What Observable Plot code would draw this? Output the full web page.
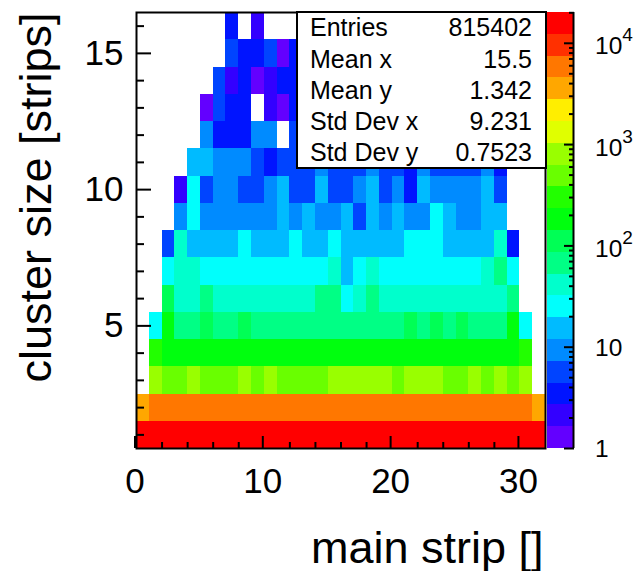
<!DOCTYPE html>
<html><head><meta charset="utf-8">
<script src="https://cdn.jsdelivr.net/npm/d3@7"></script>
<script src="https://cdn.jsdelivr.net/npm/@observablehq/plot@0.6"></script>
<style>
html,body{margin:0;padding:0;background:#fff;}
#chart{position:relative;width:638px;height:571px;background:#fff;}
#chart svg{position:absolute;left:0;top:0;}
</style></head><body><div id="chart"></div>
<script>
const _ = null;
// main strip index (x bin low edges) and cluster size (y bin centres)
const strips = [0,1,2,3,4,5,6,7,8,9,10,11,12,13,14,15,16,17,18,19,20,21,22,23,24,25,26,27,28,29,30,31];
const sizes = [1,2,3,4,5,6,7,8,9,10,11,12,13,14,15,16];

// bin contents per cluster size (one entry per strip)
const size1 = [15400,18100,18600,18900,18700,19000,18800,19100,18900,18800,19000,18700,18900,18800,18600,18900,18700,18800,18600,18900,18700,18800,18600,18800,18700,18900,18600,18800,18700,18500,18200,15600];
const size2 = [3900,6200,6400,6300,6500,6400,6300,6400,6500,6300,6400,6200,6300,6400,6300,6200,6400,6300,6300,6400,6200,6300,6400,6300,6200,6300,6400,6300,6200,6300,6100,4000];
const size3 = [_,700,600,595,655,605,590,610,650,600,660,605,595,600,610,645,660,655,650,665,600,650,655,645,600,610,660,605,650,595,690,_];
const size4 = [_,260,205,210,200,215,208,212,204,210,206,214,202,209,211,207,213,205,210,203,212,208,206,211,204,209,207,201,198,195,255,_];
const size5 = [_,28,160,80,78,95,82,80,92,79,81,77,80,78,83,76,80,82,79,81,77,94,84,90,83,93,81,79,76,150,27,_];
const size6 = [_,_,105,45,46,55,44,42,47,43,45,41,46,44,54,56,30,44,55,45,43,47,44,46,42,45,48,44,43,60,_,_];
const size7 = [_,_,24,34,35,27,25,28,26,29,24,27,26,28,25,33,18,26,34,27,29,25,28,26,27,29,26,33,53,22,_,_];
const size8 = [_,_,6,33,15,16,14,17,20,16,15,17,21,15,16,20,14,17,16,15,18,21,20,22,16,15,17,16,34,3,_,_];
const size9 = [_,_,_,9,20,10,9,10,11,9,10,13,10,12,9,10,13,7,12,10,12,9,11,20,13,10,9,13,12,_,_,_];
const size10 = [_,_,_,2,20,6,8,9,7,6,8,12,7,6,12,7,6,9,13,6,8,4,12,9,10,8,9,13,5,_,_,_];
const size11 = [_,_,_,_,13,12,9,8,10,6,4,5,6,6,8,5,6,7,9,5,6,3,8,6,7,6,6,9,3,_,_,_];
const size12 = [_,_,_,_,_,9,4,3,4,8,10,_,5,_,_,_,_,_,_,_,_,_,_,_,_,_,_,_,_,_,_,_];
const size13 = [_,_,_,_,_,1,6,3,4,_,2,1,3,_,_,_,_,_,_,_,_,_,_,_,_,_,_,_,_,_,_,_];
const size14 = [_,_,_,_,_,_,5,2,3,1,2,4,3,_,_,_,_,_,_,_,_,_,_,_,_,_,_,_,_,_,_,_];
const size15 = [_,_,_,_,_,_,_,6,4,3,5,1,3,_,_,_,_,_,_,_,_,_,_,_,_,_,_,_,_,_,_,_];
const size16 = [_,_,_,_,_,_,_,3,_,2,_,_,_,_,_,_,_,_,_,_,_,_,_,_,_,_,_,_,_,_,_,_];
const rows = [size1,size2,size3,size4,size5,size6,size7,size8,size9,size10,size11,size12,size13,size14,size15,size16];

// axes
const xMajor = [0,10,20,30];
const xMinor = [2,4,6,8,12,14,16,18,22,24,26,28];
const yMajor = [5,10,15];
const yMinor = [1,2,3,4,6,7,8,9,11,12,13,14,16];
const xTitle = "main strip []";
const yTitle = "cluster size [strips]";

// colour axis (log z)
const zMin = 1, zMax = 20137, nLevels = 20;
const zMajor = [1,10,100,1000,10000];
const zMajorBase = ["1","10","10","10","10"];
const zMajorExp = [null,null,"2","3","4"];
const zMinor = [2,3,4,5,6,7,8,9,20,30,40,50,60,70,80,90,200,300,400,500,600,700,800,900,2000,3000,4000,5000,6000,7000,8000,9000,20000];

// stats box
const statsLabels = ["Entries","Mean x","Mean y","Std Dev x","Std Dev y"];
const statsValues = ["815402","15.5","1.342","9.231","0.7523"];

// ROOT "pretty" palette, 20 contour colours
const palette = ["#6300FF","#3300FF","#0014FF","#0044FF","#008BFF","#00BBFF","#00FFFC","#00FFCC","#00FF85","#00FF55","#00FF0E","#22FF00","#69FF00","#99FF00","#E0FF00","#FFEE00","#FFA700","#FF7700","#FF3000","#FF0000"];

const font = '"Liberation Sans", Arial, Helvetica, sans-serif';
const edges = d3.range(nLevels + 1).map(k => zMin * Math.pow(zMax / zMin, k / nLevels));
const levels = edges.slice(1, nLevels);
const colorOpts = {type: "threshold", domain: levels, range: palette};

const cells = [];
sizes.forEach((s, i) => rows[i].forEach((v, j) => { if (v != null) cells.push({strip: strips[j], size: s, count: v}); }));

const main = Plot.plot({
  width: 638, height: 571,
  marginLeft: 136, marginRight: 93, marginTop: 12, marginBottom: 123,
  style: {fontFamily: font, background: "white", color: "black", overflow: "visible"},
  x: {domain: [0, 32]},
  y: {domain: [0.5, 16.5]},
  color: colorOpts,
  marks: [
    Plot.rect(cells, {x1: "strip", x2: d => d.strip + 1, y1: d => d.size - 0.5, y2: d => d.size + 0.5, fill: "count", shapeRendering: "crispEdges"}),
    Plot.axisX(xMinor, {anchor: "bottom", tickSize: -6, tickFormat: () => "", strokeWidth: 2, label: null}),
    Plot.axisX(xMajor, {anchor: "bottom", tickSize: -12, tickPadding: 32, fontSize: 35, dx: -1.5, strokeWidth: 2, label: null}),
    Plot.axisY(yMinor, {anchor: "left", tickSize: -8, tickFormat: () => "", strokeWidth: 2, label: null}),
    Plot.axisY(yMajor, {anchor: "left", tickSize: -15, tickPadding: 28, fontSize: 35, strokeWidth: 2, label: null}),
    Plot.frame({stroke: "black", strokeWidth: 2}),
    Plot.text([xTitle], {text: d => d, frameAnchor: "bottom-right", textAnchor: "end", lineAnchor: "bottom", dx: -2, dy: 114, fontSize: 45}),
    Plot.text([yTitle], {text: d => d, frameAnchor: "top-left", textAnchor: "end", lineAnchor: "bottom", rotate: -90, dx: -86, fontSize: 45})
  ]
});

// stats box drawn on top of the histogram
const sg = d3.select(main).append("g").attr("font-family", font).attr("font-size", 25)
  .attr("fill", "black").attr("text-anchor", "start");
sg.append("rect").attr("x", 297).attr("y", 12).attr("width", 249).attr("height", 156)
  .attr("fill", "white").attr("stroke", "black").attr("stroke-width", 2);
statsLabels.forEach((lab, i) => {
  const yb = 12 + 156 * (i + 0.5) / statsLabels.length + 8.8;
  sg.append("text").attr("x", 310).attr("y", yb).attr("text-anchor", "start").text(lab);
  sg.append("text").attr("x", 532).attr("y", yb).attr("text-anchor", "end").text(statsValues[i]);
});

const bands = d3.range(nLevels).map(i => ({lo: edges[i], hi: edges[i + 1], mid: Math.sqrt(edges[i] * edges[i + 1])}));
const cb = Plot.plot({
  width: 638, height: 571,
  marginLeft: 547, marginRight: 65, marginTop: 12, marginBottom: 123,
  style: {fontFamily: font, background: "transparent", color: "black", overflow: "visible"},
  x: {domain: [0, 1], axis: null},
  y: {type: "log", domain: [zMin, zMax]},
  color: colorOpts,
  marks: [
    Plot.rect(bands, {x1: 0, x2: 1, y1: "lo", y2: "hi", fill: "mid", shapeRendering: "crispEdges"}),
    Plot.axisY(zMinor, {anchor: "right", tickSize: -5, tickFormat: () => "", strokeWidth: 2, label: null}),
    Plot.axisY(zMajor, {anchor: "right", tickSize: -10, tickFormat: () => "", strokeWidth: 2, label: null}),
    Plot.ruleX([1], {strokeWidth: 2})
  ]
});
const ys = cb.scale("y"), xs = cb.scale("x");
const lx = xs.apply(1) + 22;
const lg = d3.select(cb).append("g").attr("font-family", font).attr("fill", "black").attr("text-anchor", "start");
zMajor.forEach((v, i) => {
  const y = ys.apply(v);
  const t = lg.append("text").attr("x", lx).attr("font-size", 24.5).attr("text-anchor", "start");
  if (zMajorExp[i] == null) {
    t.attr("y", y + 9).text(zMajorBase[i]);
  } else {
    t.attr("y", y + 11.5).text(zMajorBase[i]);
    t.append("tspan").attr("font-size", 19).attr("dy", -13).text(zMajorExp[i]);
  }
});

const chart = document.getElementById("chart");
chart.appendChild(main);
chart.appendChild(cb);
</script></body></html>
